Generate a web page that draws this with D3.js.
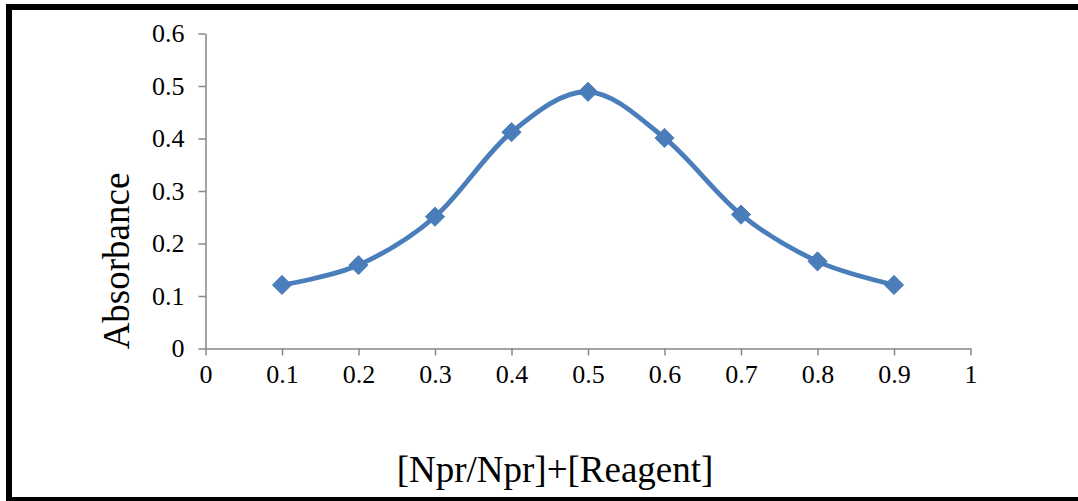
<!DOCTYPE html>
<html>
<head>
<meta charset="utf-8">
<script src="https://cdn.jsdelivr.net/npm/d3@7"></script>
<style>
  html, body { margin: 0; padding: 0; background: #fff; }
  svg { display: block; }
  svg text { font-family: "Liberation Serif", "Times New Roman", serif !important; fill: #000; }
</style>
</head>
<body>
<svg id="chart" width="1078" height="501"></svg>
<script>
const xValues = [0.1, 0.2, 0.3, 0.4, 0.5, 0.6, 0.7, 0.8, 0.9];
const absorbance = [0.121, 0.159, 0.251, 0.412, 0.489, 0.401, 0.255, 0.166, 0.121];
const xTicks = [0, 0.1, 0.2, 0.3, 0.4, 0.5, 0.6, 0.7, 0.8, 0.9, 1];
const yTicks = [0, 0.1, 0.2, 0.3, 0.4, 0.5, 0.6];
const xTitle = "[Npr/Npr]+[Reagent]";
const yTitle = "Absorbance";

const svg = d3.select("#chart");
const W = 1078, H = 501;
const serif = "'Liberation Serif', 'Times New Roman', serif";

// outer frame
svg.append("rect")
  .attr("x", 9).attr("y", 7)
  .attr("width", W + 20).attr("height", 493)
  .attr("fill", "none").attr("stroke", "#000").attr("stroke-width", 6);

const x = d3.scaleLinear().domain([0, 1]).range([205.5, 970.5]);
const y = d3.scaleLinear().domain([0, 0.6]).range([348.5, 33.5]);

const axisColor = "#868686";

// X axis
const gx = svg.append("g").attr("transform", `translate(0,${y(0)})`)
  .call(d3.axisBottom(x).tickValues(xTicks).tickSize(7).tickPadding(9)
    .tickFormat(d => d3.format("")(d)).tickSizeOuter(0));
gx.attr("font-family", null).attr("font-size", null);
gx.select(".domain").attr("stroke", axisColor).attr("stroke-width", 1.5);
gx.selectAll(".tick line").attr("stroke", axisColor).attr("stroke-width", 1.5);
gx.selectAll(".tick text").style("font-size", "26px").style("font-family", serif).attr("fill", "#000");

// Y axis
const gy = svg.append("g").attr("transform", `translate(${x(0)},0)`)
  .call(d3.axisLeft(y).tickValues(yTicks).tickSize(7).tickPadding(14)
    .tickFormat(d => d3.format("")(d)).tickSizeOuter(0));
gy.attr("font-family", null).attr("font-size", null);
gy.select(".domain").attr("stroke", axisColor).attr("stroke-width", 1.5);
gy.selectAll(".tick line").attr("stroke", axisColor).attr("stroke-width", 1.5);
gy.selectAll(".tick text").style("font-size", "26px").style("font-family", serif).attr("fill", "#000");

// line
const data = xValues.map((v, i) => ({ x: v, y: absorbance[i] }));
const line = d3.line().x(d => x(d.x)).y(d => y(d.y)).curve(d3.curveCardinal.tension(0));
svg.append("path").datum(data)
  .attr("d", line)
  .attr("fill", "none")
  .attr("stroke", "#4A7EBB")
  .attr("stroke-width", 4.8)
  .attr("stroke-linecap", "round");

// markers (diamonds)
const sym = d3.symbol().type(d3.symbolSquare).size(185);
svg.append("g").selectAll("path").data(data).join("path")
  .attr("d", sym)
  .attr("transform", d => `translate(${x(d.x)},${y(d.y)}) rotate(45)`)
  .attr("fill", "#4A7EBB")
  .attr("stroke", "#4577B5")
  .attr("stroke-width", 0.8);

// titles
svg.append("text")
  .attr("x", (x(0) + x(1)) / 2 - 33)
  .attr("y", 482)
  .attr("text-anchor", "middle")
  .style("font-size", "37px").style("font-family", serif)
  .text(xTitle);

svg.append("text")
  .attr("transform", `translate(129,${(y(0) + y(0.6)) / 2 + 70}) rotate(-90)`)
  .attr("text-anchor", "middle")
  .style("font-size", "37px").style("font-family", serif)
  .text(yTitle);
</script>
</body>
</html>
